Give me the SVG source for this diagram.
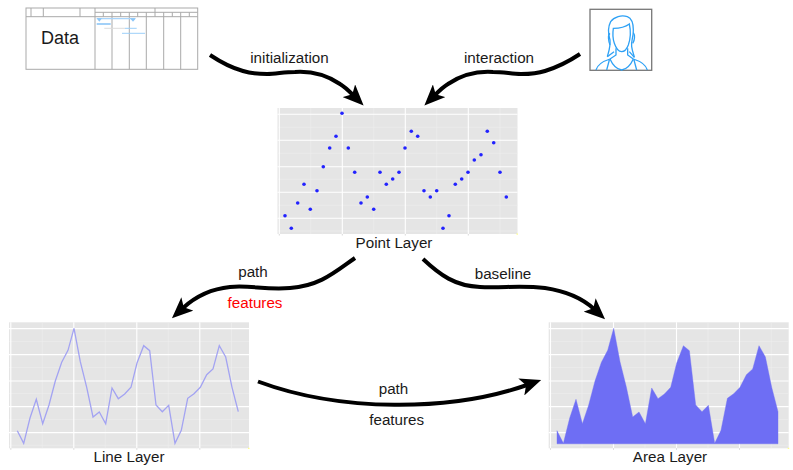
<svg xmlns="http://www.w3.org/2000/svg" xmlns:xlink="http://www.w3.org/1999/xlink" width="793" height="470" viewBox="0 0 793 470">
<style>
text{font-family:"Liberation Sans",Arial,sans-serif;font-size:15.2px;fill:#1a1a1a;text-anchor:middle}
.red{fill:#f00}
.conn{fill:none;stroke:#000;stroke-width:4;stroke-linecap:butt;marker-end:url(#barb)}
.bg{fill:#e5e5e5}
.maj{stroke:#fff;stroke-width:1.1;fill:none}
.min{stroke:#eeeeee;stroke-width:.6;fill:none}
.tick{stroke:#bdbdbd;stroke-width:.6;fill:none}
.tb{stroke:#a9a9a9;stroke-width:1;fill:none}
.ic{stroke:#2ea1f5;stroke-width:3.9;fill:none}
</style>
<defs>
<marker id="barb" markerUnits="userSpaceOnUse" markerWidth="22" markerHeight="18" viewBox="0 0 22 18" refX="6" refY="9" orient="auto">
<path d="M21,9 L0,0 L5,9 L0,18 Z" fill="#000"/>
</marker>
<g id="panel">
<rect class="bg" x="0" y="0" width="240" height="126"/>
<path class="min" d="M33.2,0V126M96.2,0V126M159.2,0V126M222.5,0V126M0,19.3H240M0,45.3H240M0,71.3H240M0,97.3H240M0,123H240"/>
<path class="maj" d="M1.8,0V126M64.8,0V126M127.8,0V126M190.8,0V126M0,6.3H240M0,32.3H240M0,58.7H240M0,84.3H240M0,110.3H240"/>
<path class="tick" d="M1.8,126V127.5M64.8,126V127.5M127.8,126V127.5M190.8,126V127.5"/>
<rect x="239" y="125.5" width="1.5" height="1.2" fill="#ffff88"/>
</g>
</defs>

<g id="data">
<rect class="tb" x="26" y="8" width="171.7" height="61.3"/>
<path class="tb" d="M26,16.7H197.7M95,12.3H197.7M31,8V16.7M43.3,8V16.7M80,8V16.7M95,8V69.3M155,8V12.3"/>
<path class="tb" d="M103.3,12.3V16.7M120.7,12.3V16.7M137.7,12.3V16.7M155,12.3V16.7M172.3,12.3V16.7M189.3,12.3V16.7M112,12.3V69.3M129.3,12.3V69.3M146.3,12.3V69.3M163.7,12.3V69.3M180.7,12.3V69.3"/>
<path d="M96.7,18.7H135" stroke="#a8d4fb" stroke-width="1.2" fill="none"/>
<path d="M96.7,18.2H102L99.3,21.8ZM130,18.2H136L133,21.8Z" fill="#8cc6f7"/>
<path d="M96.7,24H110.7" stroke="#8cc6f7" stroke-width="1.6" fill="none"/>
<path d="M104.3,28.3H125" stroke="#dcdcdc" stroke-width="1" fill="none"/>
<path d="M125,28.3H136.7M122,33.3H145" stroke="#9ccff9" stroke-width="1" fill="none"/>
<text x="60" y="44" style="font-size:18px">Data</text>
</g>

<g id="user">
<rect x="590" y="9.3" width="61.7" height="61" fill="#fff" stroke="#777" stroke-width="1.3"/>
<g transform="translate(590,10) scale(.3333)">
<path class="ic" d="M52,140C56,125 62,110 60,90C54,70 54,50 62,35C72,20 95,14 112,20C125,25 130,40 130,60C131,80 122,95 125,110C127,125 132,135 133,142"/>
<path class="ic" d="M70,55C85,55 105,52 118,42C122,60 122,85 115,105C110,118 103,125 95,125C85,125 78,115 73,100C68,85 68,68 70,55Z"/>
<path class="ic" d="M60,70C52,75 56,95 60,105M130,68C135,75 135,90 128,100M52,140L72,125M133,142L118,125"/>
<path class="ic" d="M78,115V135L60,147M113,115V135L130,147"/>
<path class="ic" d="M18,180C22,165 35,155 60,147M172,180C168,165 155,155 130,147M60,147C68,165 82,178 95,180C108,178 122,165 130,147M50,180L58,150M140,180L132,150"/>
</g>
</g>

<g id="point-layer">
<use xlink:href="#panel" href="#panel" transform="translate(277.5,108)"/>
<g fill="#2222ff">
<circle cx="285" cy="215.7" r="1.8"/><circle cx="291.3" cy="228.3" r="1.8"/><circle cx="297.7" cy="203" r="1.8"/><circle cx="304" cy="184.3" r="1.8"/><circle cx="310.3" cy="209.3" r="1.8"/><circle cx="317" cy="190.7" r="1.8"/><circle cx="323.3" cy="166.7" r="1.8"/><circle cx="329.7" cy="148" r="1.8"/><circle cx="336" cy="136.3" r="1.8"/><circle cx="342" cy="113.3" r="1.8"/><circle cx="348.3" cy="148" r="1.8"/><circle cx="354.7" cy="172.3" r="1.8"/><circle cx="361" cy="203" r="1.8"/><circle cx="367.3" cy="197" r="1.8"/><circle cx="373.7" cy="209.3" r="1.8"/><circle cx="380" cy="172.3" r="1.8"/><circle cx="386.3" cy="184.3" r="1.8"/><circle cx="392.7" cy="179" r="1.8"/><circle cx="399" cy="172.3" r="1.8"/><circle cx="405" cy="148" r="1.8"/><circle cx="411.3" cy="131.3" r="1.8"/><circle cx="417.7" cy="136.3" r="1.8"/><circle cx="424" cy="190.7" r="1.8"/><circle cx="430.3" cy="197" r="1.8"/><circle cx="436.7" cy="190.7" r="1.8"/><circle cx="443" cy="228.3" r="1.8"/><circle cx="449" cy="215.7" r="1.8"/><circle cx="455.3" cy="184.3" r="1.8"/><circle cx="461.7" cy="179" r="1.8"/><circle cx="468" cy="172.3" r="1.8"/><circle cx="474.3" cy="160" r="1.8"/><circle cx="481" cy="154.7" r="1.8"/><circle cx="487.3" cy="131.3" r="1.8"/><circle cx="493.7" cy="142.7" r="1.8"/><circle cx="500" cy="172.3" r="1.8"/><circle cx="506.3" cy="197" r="1.8"/>
</g>
<text x="394" y="247.5">Point Layer</text>
</g>

<g id="line-layer">
<use xlink:href="#panel" href="#panel" transform="translate(9,322.3)"/>
<polyline transform="translate(9,322.3)" fill="none" stroke="#a3a3f2" stroke-width="1.3" points="8.3,108.4 14.7,121 21,95.7 27.3,77 33.7,101.4 40,82.7 46.3,58.7 52.7,40 59,28 65,6 71.3,39.4 77.7,65 84,94.7 90.3,89.7 96.7,101.4 103,65.7 109.3,76.4 115.7,71.7 122,65 128,40.7 134.7,23.4 140.7,28.4 147,82.7 153.3,89.4 159.7,83 166,121 172.3,108 178.7,76 185,71.4 191.3,65 197.7,52.4 204,46.7 210.3,23.4 216.7,34.7 223,65 229.3,89.4"/>
<text x="129" y="461.5">Line Layer</text>
</g>

<g id="area-layer">
<use xlink:href="#panel" href="#panel" transform="translate(548.7,322.3)"/>
<polygon transform="translate(548.7,322.3)" fill="#6e6ef4" stroke="#6e6ef4" stroke-width=".4" points="8.3,108.4 14.7,121 21,95.7 27.3,77 33.7,101.4 40,82.7 46.3,58.7 52.7,40 59,28 65,6 71.3,39.4 77.7,65 84,94.7 90.3,89.7 96.7,101.4 103,65.7 109.3,76.4 115.7,71.7 122,65 128,40.7 134.7,23.4 140.7,28.4 147,82.7 153.3,89.4 159.7,83 166,121 172.3,108 178.7,76 185,71.4 191.3,65 197.7,52.4 204,46.7 210.3,23.4 216.7,34.7 223,65 229.3,89.4 229.3,121.5 8.3,121.5"/>
<text x="670" y="461.5">Area Layer</text>
</g>

<g id="connectors">
<path class="conn" d="M210,55C222,63 232,68 243,71C252,74 260,74 267,74C276,74 284,72 295,72C310,71 325,74 340,84C345,87 349,91 353,95"/>
<path class="conn" d="M580,54C568,62 558,67 545,71C536,74 528,74 521,74C512,74 504,72 493,72C478,71 463,74 448,84C443,87 439,91 435,95"/>
<path class="conn" d="M355,258C335,272 320,286 290,288C265,290 250,285 230,287C210,289 195,297 183,308"/>
<path class="conn" d="M423,259C440,275 455,286 480,287C505,288 520,285 545,288C565,291 582,298 594,309"/>
<path class="conn" d="M258,381.5C340,412 450,412 527,385"/>
</g>

<g id="labels">
<text x="289.5" y="63">initialization</text>
<text x="499" y="63">interaction</text>
<text x="253" y="277">path</text>
<text class="red" x="255" y="308">features</text>
<text x="503" y="279">baseline</text>
<text x="393.5" y="394">path</text>
<text x="396.7" y="425">features</text>
</g>
</svg>
